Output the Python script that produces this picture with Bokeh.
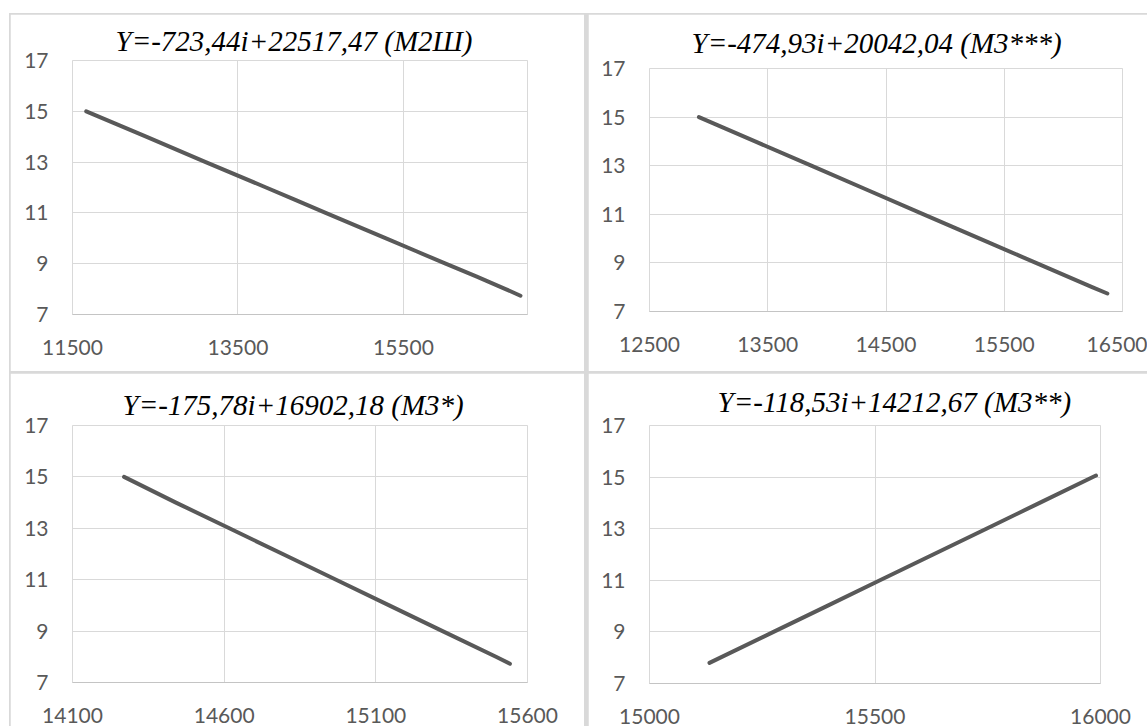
from bokeh.plotting import figure
from bokeh.layouts import row, column
from bokeh.models import FixedTicker, Range1d, Title
from bokeh.embed import file_html
from bokeh.resources import INLINE

# ---- data ----
# Panel 1: Y=-723,44i+22517,47 (М2Ш)
p1_title = "Y=-723,44i+22517,47 (М2Ш)"
p1_y = [11666, 12390, 13110, 13840, 14200, 14560, 15290, 15650, 16010, 16380, 16735, 16915]
p1_i = [15.0, 14.0, 13.0, 12.0, 11.5, 11.0, 10.0, 9.5, 9.0, 8.5, 8.0, 7.74]
p1_xrange = (11500, 17000)
p1_xticks = [11500, 13500, 15500]

# Panel 2: Y=-474,93i+20042,04 (М3***)
p2_title = "Y=-474,93i+20042,04 (М3***)"
p2_y = [12918, 13393, 13868, 14343, 14818, 15293, 15768, 16243, 16372]
p2_i = [15.0, 14.0, 13.0, 12.0, 11.0, 10.0, 9.0, 8.0, 7.74]
p2_xrange = (12500, 16500)
p2_xticks = [12500, 13500, 14500, 15500, 16500]

# Panel 3: Y=-175,78i+16902,18 (М3*)
p3_title = "Y=-175,78i+16902,18 (М3*)"
p3_y = [14270, 14441, 14617, 14793, 14969, 15144, 15320, 15496, 15542]
p3_i = [15.0, 14.0, 13.0, 12.0, 11.0, 10.0, 9.0, 8.0, 7.73]
p3_xrange = (14100, 15600)
p3_xticks = [14100, 14600, 15100, 15600]

# Panel 4: Y=-118,53i+14212,67 (М3**)
p4_title = "Y=-118,53i+14212,67 (М3**)"
p4_y = [15133, 15275, 15393, 15511, 15629, 15747, 15865, 15990]
p4_i = [7.80, 9.0, 10.0, 11.0, 12.0, 13.0, 14.0, 15.06]
p4_xrange = (15000, 16000)
p4_xticks = [15000, 15500, 16000]

y_range = (7, 17)
y_ticks = [7, 9, 11, 13, 15, 17]

GRID = "#d9d9d9"
LABEL = "#595959"
LINE = "#595959"


def panel(title, xs, ys, xr, xticks, w, h, left, right, top, bottom, toff, tstand):
    p = figure(width=w, height=h, x_range=Range1d(*xr), y_range=Range1d(*y_range),
               min_border_left=left, min_border_right=right,
               min_border_top=top, min_border_bottom=bottom,
               output_backend="svg", toolbar_location=None)
    p.title = Title(text=title, align="left", offset=toff, standoff=tstand,
                    text_font="Liberation Serif", text_font_style="italic",
                    text_font_size="29px", text_color="black")
    p.background_fill_color = "white"
    p.border_fill_color = "white"
    p.outline_line_color = GRID
    p.xaxis.ticker = FixedTicker(ticks=xticks)
    p.yaxis.ticker = FixedTicker(ticks=y_ticks)
    p.xgrid.ticker = FixedTicker(ticks=xticks)
    p.ygrid.ticker = FixedTicker(ticks=y_ticks)
    p.grid.grid_line_color = GRID
    p.grid.grid_line_width = 1
    p.axis.axis_line_color = None
    p.xaxis.axis_line_color = "#c4c4c4"
    p.axis.major_tick_line_color = None
    p.axis.minor_tick_line_color = None
    p.axis.major_tick_in = 0
    p.axis.major_tick_out = 0
    p.axis.major_label_text_font = "Lato"
    p.axis.major_label_text_font_size = "21px"
    p.axis.major_label_text_color = LABEL
    p.xaxis.major_label_standoff = 25
    p.yaxis.major_label_standoff = 24
    p.line(xs, ys, line_color=LINE, line_width=4, line_cap="round", line_join="round")
    return p


f1 = panel(p1_title, p1_y, p1_i, p1_xrange, p1_xticks, 574, 357, 62, 57, 46, 57, 43, 7)
f2 = panel(p2_title, p2_y, p2_i, p2_xrange, p2_xticks, 559, 357, 61, 25, 54, 60, 42, 19)
f3 = panel(p3_title, p3_y, p3_i, p3_xrange, p3_xticks, 574, 353, 62, 57, 52, 44, 50, 10)
f4 = panel(p4_title, p4_y, p4_i, p4_xrange, p4_xticks, 559, 353, 61, 47, 52, 43, 68, 15)

layout = column(
    row(column(f1), column(f2), spacing=4),
    row(column(f3), column(f4), spacing=4),
    spacing=2,
    margin=(13, 0, 0, 9),
    styles={"background-color": GRID, "border-top": "1px solid " + GRID,
            "border-left": "1px solid " + GRID},
)

open("out.html", "w").write(file_html(layout, INLINE))
